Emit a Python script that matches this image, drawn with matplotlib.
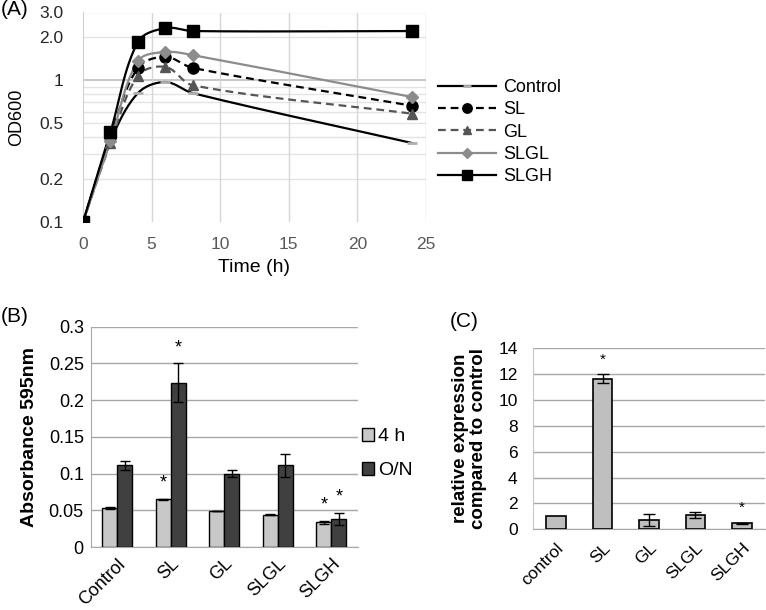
import numpy as np
import matplotlib
matplotlib.use('Agg')
import matplotlib.pyplot as plt
from matplotlib.patches import Patch

plt.rcParams['font.family'] = ['Liberation Sans', 'DejaVu Sans']
plt.rcParams['font.size'] = 12

# (A) growth curves
time_h = [0, 2, 4, 6, 8, 24]
od_control = [0.1, 0.37, 0.81, 0.97, 0.81, 0.36]
od_sl = [0.1, 0.40, 1.22, 1.46, 1.22, 0.66]
od_gl = [0.1, 0.36, 1.07, 1.24, 0.92, 0.58]
od_slgl = [0.1, 0.37, 1.36, 1.58, 1.50, 0.76]
od_slgh = [0.1, 0.43, 1.86, 2.33, 2.22, 2.22]
series_names = ['Control', 'SL', 'GL', 'SLGL', 'SLGH']

# (B) absorbance
groups_b = ['Control', 'SL', 'GL', 'SLGL', 'SLGH']
abs_4h = [0.053, 0.065, 0.049, 0.044, 0.034]
abs_4h_err = [0.001, 0.001, 0.0005, 0.001, 0.002]
abs_on = [0.111, 0.224, 0.100, 0.111, 0.038]
abs_on_err = [0.0065, 0.026, 0.005, 0.016, 0.0085]
star_4h = [False, True, False, False, True]
star_on = [False, True, False, False, True]

# (C) relative expression
groups_c = ['control', 'SL', 'GL', 'SLGL', 'SLGH']
rel_expr = [1.0, 11.65, 0.73, 1.12, 0.46]
rel_err = [0.0, 0.35, 0.48, 0.22, 0.03]
star_c = [False, True, False, False, True]

W, H = 766, 610
fig = plt.figure(figsize=(W / 100, H / 100), dpi=100)


def box(l, t, r, b):
    return [l / W, 1 - b / H, (r - l) / W, (b - t) / H]


def smooth(x, y, w, h, xmax, ylo, yhi):
    # bezier smoothing in display space (like the spreadsheet "smoothed line")
    px = np.array(x, float) / xmax * w
    py = (np.log10(y) - np.log10(ylo)) / (np.log10(yhi) - np.log10(ylo)) * h
    P = np.column_stack([px, py])
    n = len(P)
    tang = []
    for i in range(n):
        a = P[max(i - 1, 0)]
        b = P[min(i + 1, n - 1)]
        d = b - a
        tang.append(d / (np.linalg.norm(d) + 1e-9))
    out = [P[0]]
    s = np.linspace(0, 1, 30)[1:]
    for i in range(n - 1):
        L = np.linalg.norm(P[i + 1] - P[i])
        c1 = P[i] + tang[i] * L * 0.33
        c2 = P[i + 1] - tang[i + 1] * L * 0.33
        for t in s:
            out.append((1 - t) ** 3 * P[i] + 3 * (1 - t) ** 2 * t * c1
                       + 3 * (1 - t) * t ** 2 * c2 + t ** 3 * P[i + 1])
    out = np.array(out)
    xs = out[:, 0] / w * xmax
    ys = 10 ** (out[:, 1] / h * (np.log10(yhi) - np.log10(ylo)) + np.log10(ylo))
    return xs, ys


# ---------------- panel A ----------------
axA = fig.add_axes(box(83, 12.5, 426, 222))
axA.set_yscale('log')
axA.set_xlim(0, 25)
axA.set_ylim(0.1, 3.0)
for v in [0.2, 0.3, 0.4, 0.5, 0.6, 0.7, 0.8, 0.9, 2.0, 3.0]:
    axA.axhline(v, color='#e3e3e3', lw=1, zorder=0)
axA.axhline(1.0, color='#bdbdbd', lw=1.2, zorder=0)
for v in [5, 10, 15, 20, 25]:
    axA.axvline(v, color='#d6d6d6', lw=1, zorder=0)

dash = (0, (3.5, 2.2))
styles = [
    dict(color='black', ls='-', marker='_', mfc='#b0b0b0', mec='#b0b0b0', ms=7, mew=2),
    dict(color='black', ls=dash, marker='o', mfc='black', mec='black', ms=8),
    dict(color='#555555', ls=dash, marker='^', mfc='#555555', mec='#555555', ms=7.5),
    dict(color='#8c8c8c', ls='-', marker='D', mfc='#8c8c8c', mec='#8c8c8c', ms=6),
    dict(color='black', ls='-', marker='s', mfc='black', mec='black', ms=9),
]
all_od = [od_control, od_sl, od_gl, od_slgl, od_slgh]
handles = []
for name, od, st in zip(series_names, all_od, styles):
    xs, ys = smooth(time_h, od, 343, 210, 25, 0.1, 3.0)
    axA.plot(xs, ys, color=st['color'], ls=st['ls'], lw=1.6, zorder=3)
    axA.plot(time_h, od, ls='none', marker=st['marker'], mfc=st['mfc'],
             mec=st['mec'], ms=st['ms'], mew=st.get('mew', 1), zorder=4)
    h, = axA.plot([], [], color=st['color'], ls=st['ls'], lw=1.6,
                  marker=st['marker'], mfc=st['mfc'], mec=st['mec'],
                  ms=st['ms'] * 0.85, mew=st.get('mew', 1))
    handles.append(h)

axA.set_yticks([0.1, 0.2, 0.5, 1, 2, 3])
axA.set_yticklabels(['0.1', '0.2', '0.5', '1', '2.0', '3.0'], color='#262626')
axA.yaxis.set_minor_locator(matplotlib.ticker.NullLocator())
axA.set_xticks([0, 5, 10, 15, 20, 25])
axA.set_xticklabels(['0', '5', '10', '15', '20', '25'], color='#595959')
axA.tick_params(length=0, labelsize=12.5)
axA.tick_params(axis='y', pad=14)
axA.tick_params(axis='x', pad=11)
for s in ['top', 'right', 'bottom']:
    axA.spines[s].set_visible(False)
axA.spines['left'].set_color('#d0d0d0')
axA.set_xlabel('Time (h)', fontsize=14, labelpad=5)
axA.set_ylabel('OD600', fontsize=13, labelpad=10)
fig.legend(handles, series_names, loc='upper left',
           bbox_to_anchor=(422 / W, 1 - 63 / H), frameon=False,
           handlelength=3.2, labelspacing=0.29, handletextpad=0.4, fontsize=13)

# ---------------- panel B ----------------
axB = fig.add_axes(box(90.7, 326.7, 358, 547))
xb = np.arange(len(groups_b))
bw = 0.28
axB.bar(xb - bw / 2, abs_4h, bw, color='#c8c8c8', edgecolor='black', lw=1,
        yerr=abs_4h_err, capsize=3.5, error_kw=dict(lw=1, capthick=1), zorder=3)
axB.bar(xb + bw / 2, abs_on, bw, color='#404040', edgecolor='black', lw=1,
        yerr=abs_on_err, capsize=3.5, error_kw=dict(lw=1, capthick=1), zorder=3)
for i in range(len(groups_b)):
    if star_4h[i]:
        axB.text(xb[i] - bw / 2, abs_4h[i] + abs_4h_err[i] + 0.01, '*',
                 ha='center', va='bottom', fontsize=13)
    if star_on[i]:
        axB.text(xb[i] + bw / 2, abs_on[i] + abs_on_err[i] + 0.01, '*',
                 ha='center', va='bottom', fontsize=13)
axB.set_xlim(-0.5, len(groups_b) - 0.5)
axB.set_ylim(0, 0.3)
axB.set_yticks([0, 0.05, 0.1, 0.15, 0.2, 0.25, 0.3])
axB.set_yticklabels(['0', '0.05', '0.1', '0.15', '0.2', '0.25', '0.3'])
axB.yaxis.grid(True, color='#a8a8a8', lw=1)
axB.set_axisbelow(True)
axB.set_xticks(xb)
axB.set_xticklabels(groups_b, rotation=45, ha='right', rotation_mode='anchor')
axB.tick_params(length=0, labelsize=13)
axB.tick_params(axis='y', pad=5)
axB.tick_params(axis='x', pad=6)
for s in ['top', 'right']:
    axB.spines[s].set_visible(False)
axB.spines['left'].set_color('#a8a8a8')
axB.spines['bottom'].set_color('#a8a8a8')
axB.set_ylabel('Absorbance 595nm', fontsize=14, fontweight='bold', labelpad=8)
fig.legend(handles=[Patch(facecolor='#c8c8c8', edgecolor='black', label='4 h'),
                    Patch(facecolor='#404040', edgecolor='black', label='O/N')],
           loc='upper left', bbox_to_anchor=(344 / W, 1 - 410 / H), frameon=False,
           handlelength=0.65, handleheight=0.7, handletextpad=0.2,
           labelspacing=0.85, fontsize=14)

# ---------------- panel C ----------------
axC = fig.add_axes(box(533, 348.3, 765, 529.3))
xc = np.arange(len(groups_c))
axC.bar(xc, rel_expr, 0.42, color='#bfbfbf', edgecolor='black', lw=1.2,
        zorder=3)
axC.errorbar(xc[1:], rel_expr[1:], yerr=rel_err[1:], fmt='none', ecolor='black',
             elinewidth=1, capsize=4, capthick=1, zorder=4)
for i in range(len(groups_c)):
    if star_c[i]:
        axC.text(xc[i], rel_expr[i] + rel_err[i] + 0.6, '*', ha='center',
                 va='bottom', fontsize=11)
axC.set_xlim(-0.5, len(groups_c) - 0.5)
axC.set_ylim(0, 14)
axC.set_yticks(range(0, 15, 2))
axC.yaxis.grid(True, color='#a8a8a8', lw=1)
axC.set_axisbelow(True)
axC.set_xticks(xc)
axC.set_xticklabels(groups_c, rotation=45, ha='right', rotation_mode='anchor')
axC.tick_params(length=0, labelsize=12.5)
axC.tick_params(axis='y', pad=11)
axC.tick_params(axis='x', pad=8)
for s in ['top', 'right']:
    axC.spines[s].set_visible(False)
axC.spines['left'].set_color('#c8c8c8')
axC.spines['bottom'].set_color('#a8a8a8')
axC.set_ylabel('relative expression\ncompared to control', fontsize=13.5,
               fontweight='bold', labelpad=8, linespacing=1.1)

fig.text(1 / W, 1 - 0 / H, '(A)', fontsize=15, va='top', ha='left')
fig.text(1 / W, 1 - 307 / H, '(B)', fontsize=15, va='top', ha='left')
fig.text(450 / W, 1 - 312 / H, '(C)', fontsize=15, va='top', ha='left')

fig.savefig('out.png', dpi=100)
